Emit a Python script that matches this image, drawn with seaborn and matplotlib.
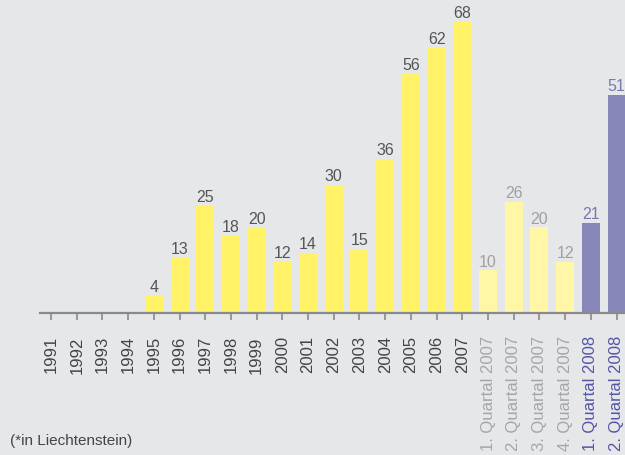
import numpy as np
import pandas as pd
import matplotlib
matplotlib.use('Agg')
import matplotlib.pyplot as plt
import seaborn as sns

# Daten
kategorien = ['1991', '1992', '1993', '1994', '1995', '1996', '1997', '1998',
              '1999', '2000', '2001', '2002', '2003', '2004', '2005', '2006',
              '2007', '1. Quartal 2007', '2. Quartal 2007', '3. Quartal 2007',
              '4. Quartal 2007', '1. Quartal 2008', '2. Quartal 2008']
werte = [0, 0, 0, 0, 4, 13, 25, 18, 20, 12, 14, 30, 15, 36, 56, 62, 68,
         10, 26, 20, 12, 21, 51]
gruppe = ['jahr'] * 17 + ['q2007'] * 4 + ['q2008'] * 2

bar_farben = {'jahr': '#fff266', 'q2007': '#fff6a6', 'q2008': '#8686b9'}
text_farben = {'jahr': '#444444', 'q2007': '#a6a6a6', 'q2008': '#5555a6'}
wert_farben = {'jahr': '#555555', 'q2007': '#a0a0a0', 'q2008': '#7878b0'}

df = pd.DataFrame({'kat': kategorien, 'wert': werte, 'gruppe': gruppe})

sns.set_theme(style='white')
plt.rcParams['font.family'] = ['Liberation Sans', 'DejaVu Sans']

bg = '#e6e7e9'
fig = plt.figure(figsize=(6.25, 4.56), dpi=100, facecolor=bg)
ax = fig.add_axes([40 / 625, 0.3114, 1 - 40 / 625, 0.6886])
ax.set_facecolor(bg)

palette = [bar_farben[g] for g in gruppe]
sns.barplot(data=df, x='kat', y='wert', hue='kat', palette=palette,
            legend=False, width=0.7, ax=ax, saturation=1, linewidth=0)

for i, (v, g) in enumerate(zip(werte, gruppe)):
    if v > 0:
        ax.text(i, v + 0.4, str(v), ha='center', va='bottom',
                fontsize=11.5, color=wert_farben[g])

ax.set_xlim(-0.43, 22.33)
ax.set_ylim(0, 73.4)
ax.set_xlabel('')
ax.set_ylabel('')
ax.set_yticks([])
for s in ['top', 'right', 'left']:
    ax.spines[s].set_visible(False)
ax.spines['bottom'].set_color('#8a8a8a')
ax.spines['bottom'].set_linewidth(1.6)
ax.tick_params(axis='x', bottom=True, length=5, width=1.2, color='#8a8a8a',
               direction='out', pad=11)
ax.set_xticks(range(len(kategorien)))
ax.set_xticklabels(kategorien, rotation=90, fontsize=12, va='top')
for lbl, g in zip(ax.get_xticklabels(), gruppe):
    lbl.set_color(text_farben[g])

fig.text(0.016, 0.032, '(*in Liechtenstein)', fontsize=11, color='#444444',
         ha='left', va='center')

fig.savefig('out.png', dpi=100, facecolor=bg)
